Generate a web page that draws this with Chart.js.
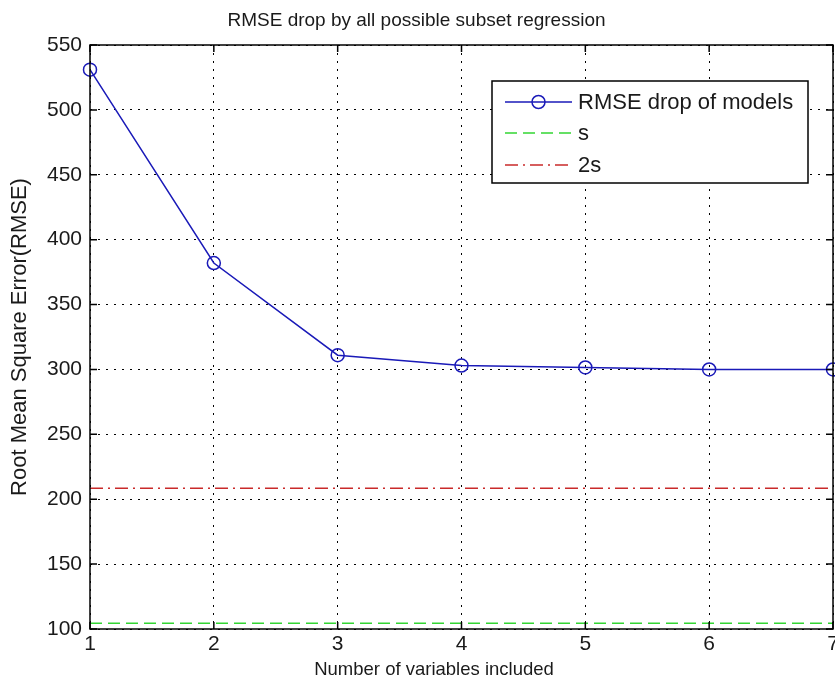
<!DOCTYPE html>
<html>
<head>
<meta charset="utf-8">
<script src="https://cdn.jsdelivr.net/npm/chart.js@4/dist/chart.umd.min.js"></script>
<style>
  html, body { margin: 0; padding: 0; background: #fff; }
  #wrap { width: 835px; height: 689px; }
</style>
</head>
<body>
<div id="wrap"><canvas id="rmseChart" width="835" height="689"></canvas></div>
<script>
const variableCounts = [1, 2, 3, 4, 5, 6, 7];
const rmseValues = [531, 382, 311, 303, 301.5, 300, 300];
const levelX = [1, 7];
const sLevel = [104.5, 104.5];
const twoSLevel = [208.5, 208.5];
const yTicks = [100, 150, 200, 250, 300, 350, 400, 450, 500, 550];

const FONT = "'Liberation Sans', Arial, sans-serif";
const TEXT = "#1a1a1a";

function toPoints(xs, ys) {
  return xs.map((x, i) => ({ x, y: ys[i] }));
}

// frame, inward ticks, x labels and legend drawn MATLAB style
const matlabAxes = {
  id: "matlabAxes",
  afterDraw(chart) {
    const { ctx, chartArea: a, scales } = chart;
    ctx.save();
    ctx.strokeStyle = "#000";
    ctx.lineWidth = 1.5;
    ctx.setLineDash([]);
    ctx.strokeRect(a.left, a.top, a.right - a.left, a.bottom - a.top);

    const tick = 7;
    ctx.beginPath();
    variableCounts.forEach((v) => {
      const px = scales.x.getPixelForValue(v);
      ctx.moveTo(px, a.bottom); ctx.lineTo(px, a.bottom - tick);
      ctx.moveTo(px, a.top); ctx.lineTo(px, a.top + tick);
    });
    yTicks.forEach((v) => {
      const py = scales.y.getPixelForValue(v);
      ctx.moveTo(a.left, py); ctx.lineTo(a.left + tick, py);
      ctx.moveTo(a.right, py); ctx.lineTo(a.right - tick, py);
    });
    ctx.stroke();

    // x tick labels (drawn here so the last one may run off the canvas)
    ctx.fillStyle = TEXT;
    ctx.font = "21px " + FONT;
    ctx.textAlign = "center";
    ctx.textBaseline = "top";
    scales.x.ticks.forEach((t) => {
      ctx.fillText(String(t.value), scales.x.getPixelForValue(t.value), a.bottom + 5);
    });

    ctx.font = "18.5px " + FONT;
    ctx.textBaseline = "middle";
    ctx.fillText("Number of variables included", 434, 670);

    // legend
    const box = { left: 492, top: 81, right: 808, bottom: 183 };
    ctx.fillStyle = "#fff";
    ctx.fillRect(box.left, box.top, box.right - box.left, box.bottom - box.top);
    ctx.strokeRect(box.left, box.top, box.right - box.left, box.bottom - box.top);
    const rowY = [102, 133, 165];
    chart.data.datasets.forEach((ds, i) => {
      const y = rowY[i];
      ctx.strokeStyle = ds.borderColor;
      ctx.lineWidth = ds.borderWidth;
      ctx.setLineDash(ds.borderDash || []);
      ctx.beginPath();
      ctx.moveTo(505, y); ctx.lineTo(572, y);
      ctx.stroke();
      ctx.setLineDash([]);
      if (ds.pointRadius) {
        ctx.beginPath();
        ctx.arc(538.5, y, ds.pointRadius, 0, Math.PI * 2);
        ctx.stroke();
      }
      ctx.fillStyle = TEXT;
      ctx.font = "22px " + FONT;
      ctx.textAlign = "left";
      ctx.fillText(ds.label, 578, y + 1);
    });
    ctx.restore();
  },
};

function fixWidth(px) {
  return (scale) => {
    scale.width = px;
    scale.paddingTop = 0;
    scale.paddingBottom = 0;
  };
}

function fixHeight(px) {
  return (scale) => {
    scale.height = px;
    scale.paddingLeft = 0;
    scale.paddingRight = 0;
  };
}

const ctx = document.getElementById("rmseChart").getContext("2d");
new Chart(ctx, {
  type: "line",
  data: {
    datasets: [
      {
        label: "RMSE drop of models",
        data: toPoints(variableCounts, rmseValues),
        borderColor: "#1a1ab8",
        borderWidth: 1.5,
        pointRadius: 6.5,
        pointBorderWidth: 1.5,
        pointBackgroundColor: "rgba(0,0,0,0)",
        pointBorderColor: "#1a1ab8",
        tension: 0,
      },
      {
        label: "s",
        data: toPoints(levelX, sLevel),
        borderColor: "#33d633",
        borderWidth: 1.5,
        borderDash: [12, 6],
        pointRadius: 0,
      },
      {
        label: "2s",
        data: toPoints(levelX, twoSLevel),
        borderColor: "#c92a2a",
        borderWidth: 1.5,
        borderDash: [13, 5, 2, 5],
        pointRadius: 0,
      },
    ],
  },
  options: {
    responsive: false,
    animation: false,
    clip: false,
    layout: { autoPadding: false, padding: { left: 0, right: 2, top: 0, bottom: 0 } },
    plugins: {
      legend: { display: false },
      tooltip: { enabled: false },
      title: {
        display: true,
        text: "RMSE drop by all possible subset regression",
        color: TEXT,
        font: { family: FONT, size: 19, weight: "normal", lineHeight: 1.2 },
        padding: { top: 9, bottom: 13.2 },
      },
    },
    scales: {
      x: {
        type: "linear",
        min: 1,
        max: 7,
        afterFit: fixHeight(60),
        grid: { color: "#000", lineWidth: 1, drawTicks: false },
        border: { display: false, dash: [2, 6] },
        ticks: { stepSize: 1, autoSkip: false, maxRotation: 0, display: false },
      },
      y: {
        min: 100,
        max: 550,
        afterFit: fixWidth(90),
        grid: { color: "#000", lineWidth: 1, drawTicks: false },
        border: { display: false, dash: [2, 6] },
        ticks: {
          stepSize: 50,
          autoSkip: false,
          padding: 8,
          color: TEXT,
          font: { family: FONT, size: 21 },
        },
        title: {
          display: true,
          text: "Root Mean Square Error(RMSE)",
          color: TEXT,
          font: { family: FONT, size: 22 },
          padding: { top: 7, bottom: 0 },
        },
      },
    },
  },
  plugins: [matlabAxes],
});
</script>
</body>
</html>
